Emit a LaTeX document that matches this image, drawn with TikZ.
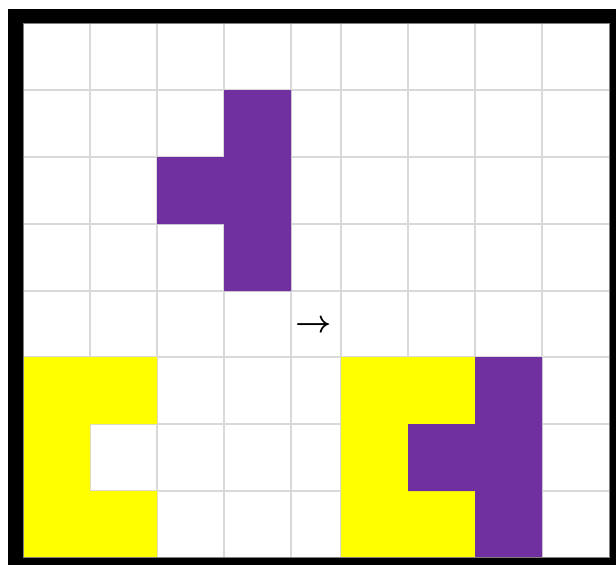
\documentclass[tikz,border=0pt]{standalone}
\definecolor{cellpurple}{HTML}{7030A0}
\definecolor{cellyellow}{HTML}{FFFF00}
\definecolor{gridgray}{HTML}{D9D9D9}
\tikzset{
  gridline/.style={draw=gridgray,line width=1.5pt},
  purplecell/.style={fill=cellpurple},
  yellowcell/.style={fill=cellyellow},
  arrowlabel/.style={inner sep=0pt,font=\fontsize{29}{30}\selectfont\boldmath,scale=1.27,transform shape}
}
\begin{document}
\begin{tikzpicture}[x=1pt,y=-1pt]
\useasboundingbox (0,0) rectangle (616,565);
\fill[black] (8,9) rectangle (616,565);
\fill[white] (23,23) rectangle (609,557);
% grid
\foreach \x in {90,157,224,291,341,408,475,542}
  \draw[gridline] (\x,23) -- (\x,557);
\foreach \y in {90,157,224,291,357,424,491}
  \draw[gridline] (23,\y) -- (609,\y);
% left purple piece
\fill[purplecell] (224,90) -- (291,90) -- (291,291) -- (224,291) -- (224,224) -- (157,224) -- (157,157) -- (224,157) -- cycle;
% left yellow piece
\fill[yellowcell] (23,357) -- (157,357) -- (157,424) -- (90,424) -- (90,491) -- (157,491) -- (157,557) -- (23,557) -- cycle;
% right combined
\fill[yellowcell] (341,357) rectangle (475,557);
\fill[purplecell] (475,357) -- (542,357) -- (542,557) -- (475,557) -- (475,491) -- (408,491) -- (408,424) -- (475,424) -- cycle;
\draw[gray,line width=0.8pt] (23,23) rectangle (609,557);
% arrow
\node[arrowlabel] (arrow) at (313.5,326) {$\rightarrow$};
\end{tikzpicture}
\end{document}
